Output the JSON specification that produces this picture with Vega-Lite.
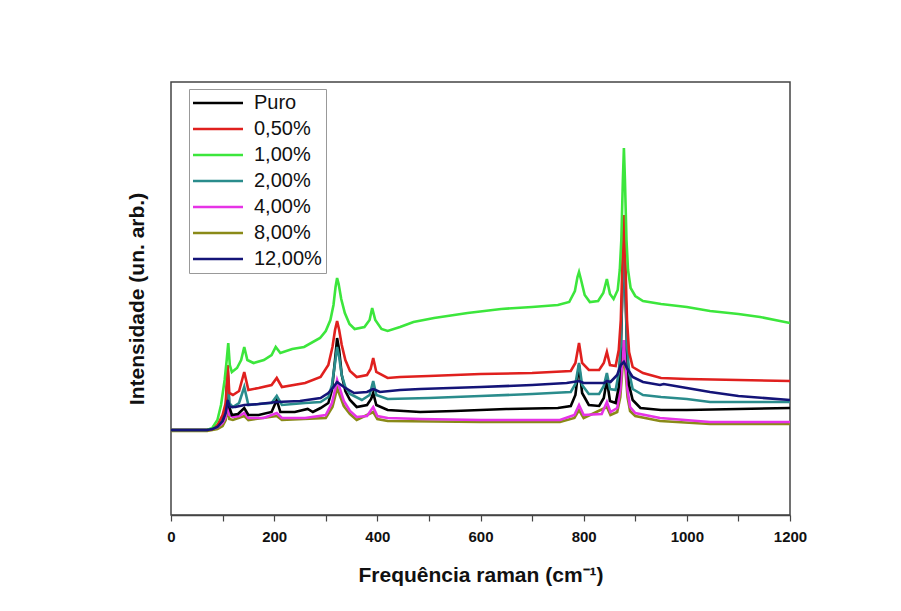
{
"$schema":"https://vega.github.io/schema/vega-lite/v6.json",
"autosize":{"type":"none"},
"padding":{"left":171,"top":82,"right":111,"bottom":96},
"width":619,"height":433,
"background":"white",
"config":{"view":{"stroke":"#444","strokeWidth":1.5},"font":"Liberation Sans"},
"data":{"values":[
{"s":"8,00%","x":0,"y":84},{"s":"8,00%","x":70,"y":84},{"s":"8,00%","x":80,"y":85},{"s":"8,00%","x":90,"y":86},{"s":"8,00%","x":100,"y":89},{"s":"8,00%","x":106,"y":95},{"s":"8,00%","x":110,"y":108},{"s":"8,00%","x":113,"y":96},{"s":"8,00%","x":120,"y":95},{"s":"8,00%","x":142,"y":99},{"s":"8,00%","x":150,"y":95},{"s":"8,00%","x":205,"y":99},{"s":"8,00%","x":215,"y":95},{"s":"8,00%","x":300,"y":97},{"s":"8,00%","x":313,"y":108},{"s":"8,00%","x":318,"y":118},{"s":"8,00%","x":322,"y":127},{"s":"8,00%","x":327,"y":120},{"s":"8,00%","x":335,"y":109},{"s":"8,00%","x":347,"y":101},{"s":"8,00%","x":360,"y":95},{"s":"8,00%","x":392,"y":103},{"s":"8,00%","x":400,"y":96},{"s":"8,00%","x":420,"y":94},{"s":"8,00%","x":600,"y":93},{"s":"8,00%","x":754,"y":93},{"s":"8,00%","x":782,"y":97},{"s":"8,00%","x":791,"y":105},{"s":"8,00%","x":800,"y":97},{"s":"8,00%","x":845,"y":108},{"s":"8,00%","x":852,"y":100},{"s":"8,00%","x":865,"y":103},{"s":"8,00%","x":871,"y":118},{"s":"8,00%","x":875,"y":145},{"s":"8,00%","x":878,"y":160},{"s":"8,00%","x":881,"y":145},{"s":"8,00%","x":885,"y":118},{"s":"8,00%","x":890,"y":104},{"s":"8,00%","x":900,"y":99},{"s":"8,00%","x":948,"y":94},{"s":"8,00%","x":1045,"y":91},{"s":"8,00%","x":1200,"y":91},
{"s":"4,00%","x":0,"y":85},{"s":"4,00%","x":70,"y":85},{"s":"4,00%","x":80,"y":86},{"s":"4,00%","x":90,"y":88},{"s":"4,00%","x":100,"y":92},{"s":"4,00%","x":106,"y":98},{"s":"4,00%","x":110,"y":115},{"s":"4,00%","x":113,"y":100},{"s":"4,00%","x":120,"y":98},{"s":"4,00%","x":132,"y":99},{"s":"4,00%","x":142,"y":102},{"s":"4,00%","x":150,"y":97},{"s":"4,00%","x":180,"y":97},{"s":"4,00%","x":205,"y":102},{"s":"4,00%","x":215,"y":97},{"s":"4,00%","x":260,"y":97},{"s":"4,00%","x":300,"y":100},{"s":"4,00%","x":312,"y":112},{"s":"4,00%","x":318,"y":125},{"s":"4,00%","x":322,"y":135},{"s":"4,00%","x":327,"y":127},{"s":"4,00%","x":335,"y":114},{"s":"4,00%","x":347,"y":104},{"s":"4,00%","x":360,"y":98},{"s":"4,00%","x":380,"y":99},{"s":"4,00%","x":392,"y":108},{"s":"4,00%","x":400,"y":99},{"s":"4,00%","x":420,"y":97},{"s":"4,00%","x":483,"y":96},{"s":"4,00%","x":600,"y":95},{"s":"4,00%","x":700,"y":95},{"s":"4,00%","x":754,"y":95},{"s":"4,00%","x":782,"y":100},{"s":"4,00%","x":791,"y":110},{"s":"4,00%","x":800,"y":100},{"s":"4,00%","x":835,"y":101},{"s":"4,00%","x":845,"y":113},{"s":"4,00%","x":852,"y":103},{"s":"4,00%","x":865,"y":107},{"s":"4,00%","x":871,"y":125},{"s":"4,00%","x":875,"y":155},{"s":"4,00%","x":878,"y":175},{"s":"4,00%","x":881,"y":155},{"s":"4,00%","x":885,"y":125},{"s":"4,00%","x":890,"y":108},{"s":"4,00%","x":900,"y":102},{"s":"4,00%","x":948,"y":97},{"s":"4,00%","x":1045,"y":93},{"s":"4,00%","x":1200,"y":93},
{"s":"Puro","x":0,"y":85},{"s":"Puro","x":70,"y":85},{"s":"Puro","x":80,"y":86},{"s":"Puro","x":90,"y":89},{"s":"Puro","x":100,"y":95},{"s":"Puro","x":106,"y":104},{"s":"Puro","x":110,"y":140},{"s":"Puro","x":113,"y":108},{"s":"Puro","x":118,"y":100},{"s":"Puro","x":130,"y":101},{"s":"Puro","x":142,"y":107},{"s":"Puro","x":150,"y":100},{"s":"Puro","x":170,"y":100},{"s":"Puro","x":195,"y":103},{"s":"Puro","x":205,"y":115},{"s":"Puro","x":212,"y":103},{"s":"Puro","x":240,"y":103},{"s":"Puro","x":265,"y":106},{"s":"Puro","x":275,"y":103},{"s":"Puro","x":290,"y":107},{"s":"Puro","x":305,"y":112},{"s":"Puro","x":312,"y":125},{"s":"Puro","x":318,"y":155},{"s":"Puro","x":322,"y":177},{"s":"Puro","x":326,"y":165},{"s":"Puro","x":331,"y":140},{"s":"Puro","x":338,"y":124},{"s":"Puro","x":347,"y":115},{"s":"Puro","x":360,"y":108},{"s":"Puro","x":380,"y":110},{"s":"Puro","x":388,"y":116},{"s":"Puro","x":392,"y":122},{"s":"Puro","x":398,"y":110},{"s":"Puro","x":420,"y":105},{"s":"Puro","x":483,"y":103},{"s":"Puro","x":550,"y":104},{"s":"Puro","x":650,"y":106},{"s":"Puro","x":750,"y":107},{"s":"Puro","x":775,"y":109},{"s":"Puro","x":784,"y":120},{"s":"Puro","x":791,"y":150},{"s":"Puro","x":797,"y":122},{"s":"Puro","x":810,"y":110},{"s":"Puro","x":830,"y":109},{"s":"Puro","x":839,"y":117},{"s":"Puro","x":845,"y":135},{"s":"Puro","x":851,"y":114},{"s":"Puro","x":862,"y":112},{"s":"Puro","x":868,"y":128},{"s":"Puro","x":872,"y":165},{"s":"Puro","x":875,"y":225},{"s":"Puro","x":878,"y":285},{"s":"Puro","x":881,"y":225},{"s":"Puro","x":884,"y":165},{"s":"Puro","x":888,"y":130},{"s":"Puro","x":895,"y":115},{"s":"Puro","x":910,"y":107},{"s":"Puro","x":950,"y":105},{"s":"Puro","x":1000,"y":105},{"s":"Puro","x":1100,"y":106},{"s":"Puro","x":1200,"y":107},
{"s":"2,00%","x":0,"y":85},{"s":"2,00%","x":70,"y":85},{"s":"2,00%","x":80,"y":86},{"s":"2,00%","x":90,"y":89},{"s":"2,00%","x":100,"y":96},{"s":"2,00%","x":106,"y":106},{"s":"2,00%","x":110,"y":145},{"s":"2,00%","x":113,"y":112},{"s":"2,00%","x":120,"y":108},{"s":"2,00%","x":132,"y":112},{"s":"2,00%","x":142,"y":128},{"s":"2,00%","x":150,"y":110},{"s":"2,00%","x":170,"y":111},{"s":"2,00%","x":195,"y":112},{"s":"2,00%","x":205,"y":119},{"s":"2,00%","x":215,"y":110},{"s":"2,00%","x":260,"y":112},{"s":"2,00%","x":290,"y":113},{"s":"2,00%","x":305,"y":118},{"s":"2,00%","x":312,"y":130},{"s":"2,00%","x":318,"y":152},{"s":"2,00%","x":322,"y":168},{"s":"2,00%","x":326,"y":158},{"s":"2,00%","x":331,"y":140},{"s":"2,00%","x":338,"y":128},{"s":"2,00%","x":347,"y":121},{"s":"2,00%","x":370,"y":115},{"s":"2,00%","x":385,"y":120},{"s":"2,00%","x":392,"y":134},{"s":"2,00%","x":398,"y":120},{"s":"2,00%","x":420,"y":116},{"s":"2,00%","x":500,"y":117},{"s":"2,00%","x":600,"y":119},{"s":"2,00%","x":700,"y":121},{"s":"2,00%","x":775,"y":123},{"s":"2,00%","x":784,"y":131},{"s":"2,00%","x":791,"y":152},{"s":"2,00%","x":797,"y":130},{"s":"2,00%","x":810,"y":121},{"s":"2,00%","x":830,"y":121},{"s":"2,00%","x":839,"y":129},{"s":"2,00%","x":845,"y":142},{"s":"2,00%","x":851,"y":126},{"s":"2,00%","x":862,"y":125},{"s":"2,00%","x":868,"y":142},{"s":"2,00%","x":872,"y":170},{"s":"2,00%","x":875,"y":225},{"s":"2,00%","x":878,"y":275},{"s":"2,00%","x":881,"y":225},{"s":"2,00%","x":884,"y":170},{"s":"2,00%","x":888,"y":143},{"s":"2,00%","x":895,"y":126},{"s":"2,00%","x":915,"y":120},{"s":"2,00%","x":950,"y":118},{"s":"2,00%","x":1000,"y":116},{"s":"2,00%","x":1045,"y":113},{"s":"2,00%","x":1100,"y":113},{"s":"2,00%","x":1200,"y":113},
{"s":"0,50%","x":0,"y":85},{"s":"0,50%","x":70,"y":85},{"s":"0,50%","x":80,"y":86},{"s":"0,50%","x":90,"y":90},{"s":"0,50%","x":100,"y":100},{"s":"0,50%","x":106,"y":112},{"s":"0,50%","x":110,"y":150},{"s":"0,50%","x":113,"y":122},{"s":"0,50%","x":120,"y":120},{"s":"0,50%","x":132,"y":124},{"s":"0,50%","x":142,"y":143},{"s":"0,50%","x":150,"y":125},{"s":"0,50%","x":170,"y":127},{"s":"0,50%","x":195,"y":130},{"s":"0,50%","x":205,"y":137},{"s":"0,50%","x":215,"y":128},{"s":"0,50%","x":260,"y":132},{"s":"0,50%","x":290,"y":138},{"s":"0,50%","x":305,"y":150},{"s":"0,50%","x":313,"y":168},{"s":"0,50%","x":318,"y":185},{"s":"0,50%","x":322,"y":194},{"s":"0,50%","x":326,"y":185},{"s":"0,50%","x":331,"y":170},{"s":"0,50%","x":338,"y":155},{"s":"0,50%","x":347,"y":144},{"s":"0,50%","x":360,"y":138},{"s":"0,50%","x":380,"y":140},{"s":"0,50%","x":387,"y":146},{"s":"0,50%","x":392,"y":157},{"s":"0,50%","x":398,"y":143},{"s":"0,50%","x":420,"y":137},{"s":"0,50%","x":444,"y":138},{"s":"0,50%","x":500,"y":139},{"s":"0,50%","x":600,"y":141},{"s":"0,50%","x":700,"y":142},{"s":"0,50%","x":775,"y":144},{"s":"0,50%","x":784,"y":152},{"s":"0,50%","x":791,"y":172},{"s":"0,50%","x":797,"y":152},{"s":"0,50%","x":810,"y":145},{"s":"0,50%","x":830,"y":145},{"s":"0,50%","x":839,"y":152},{"s":"0,50%","x":845,"y":163},{"s":"0,50%","x":851,"y":150},{"s":"0,50%","x":862,"y":149},{"s":"0,50%","x":868,"y":165},{"s":"0,50%","x":872,"y":195},{"s":"0,50%","x":875,"y":250},{"s":"0,50%","x":878,"y":300},{"s":"0,50%","x":881,"y":250},{"s":"0,50%","x":884,"y":195},{"s":"0,50%","x":888,"y":163},{"s":"0,50%","x":895,"y":148},{"s":"0,50%","x":915,"y":142},{"s":"0,50%","x":950,"y":137},{"s":"0,50%","x":1000,"y":136},{"s":"0,50%","x":1100,"y":135},{"s":"0,50%","x":1200,"y":134},
{"s":"1,00%","x":0,"y":85},{"s":"1,00%","x":70,"y":85},{"s":"1,00%","x":80,"y":87},{"s":"1,00%","x":90,"y":95},{"s":"1,00%","x":97,"y":110},{"s":"1,00%","x":104,"y":135},{"s":"1,00%","x":108,"y":155},{"s":"1,00%","x":111,"y":172},{"s":"1,00%","x":114,"y":150},{"s":"1,00%","x":118,"y":143},{"s":"1,00%","x":128,"y":147},{"s":"1,00%","x":136,"y":155},{"s":"1,00%","x":142,"y":168},{"s":"1,00%","x":148,"y":155},{"s":"1,00%","x":160,"y":152},{"s":"1,00%","x":180,"y":155},{"s":"1,00%","x":195,"y":160},{"s":"1,00%","x":203,"y":168},{"s":"1,00%","x":212,"y":162},{"s":"1,00%","x":235,"y":166},{"s":"1,00%","x":258,"y":168},{"s":"1,00%","x":289,"y":177},{"s":"1,00%","x":300,"y":184},{"s":"1,00%","x":309,"y":195},{"s":"1,00%","x":315,"y":210},{"s":"1,00%","x":319,"y":228},{"s":"1,00%","x":322,"y":237},{"s":"1,00%","x":325,"y":231},{"s":"1,00%","x":330,"y":216},{"s":"1,00%","x":337,"y":202},{"s":"1,00%","x":346,"y":191},{"s":"1,00%","x":356,"y":186},{"s":"1,00%","x":375,"y":188},{"s":"1,00%","x":385,"y":195},{"s":"1,00%","x":390,"y":207},{"s":"1,00%","x":396,"y":195},{"s":"1,00%","x":408,"y":186},{"s":"1,00%","x":420,"y":184},{"s":"1,00%","x":444,"y":188},{"s":"1,00%","x":470,"y":193},{"s":"1,00%","x":510,"y":197},{"s":"1,00%","x":575,"y":202},{"s":"1,00%","x":640,"y":206},{"s":"1,00%","x":700,"y":208},{"s":"1,00%","x":750,"y":210},{"s":"1,00%","x":772,"y":213},{"s":"1,00%","x":783,"y":224},{"s":"1,00%","x":788,"y":238},{"s":"1,00%","x":791,"y":243},{"s":"1,00%","x":795,"y":235},{"s":"1,00%","x":802,"y":220},{"s":"1,00%","x":812,"y":213},{"s":"1,00%","x":828,"y":214},{"s":"1,00%","x":838,"y":222},{"s":"1,00%","x":845,"y":236},{"s":"1,00%","x":851,"y":221},{"s":"1,00%","x":858,"y":216},{"s":"1,00%","x":866,"y":225},{"s":"1,00%","x":870,"y":245},{"s":"1,00%","x":873,"y":275},{"s":"1,00%","x":876,"y":335},{"s":"1,00%","x":878,"y":367},{"s":"1,00%","x":880,"y":335},{"s":"1,00%","x":883,"y":275},{"s":"1,00%","x":886,"y":245},{"s":"1,00%","x":891,"y":227},{"s":"1,00%","x":900,"y":219},{"s":"1,00%","x":915,"y":214},{"s":"1,00%","x":950,"y":211},{"s":"1,00%","x":1000,"y":208},{"s":"1,00%","x":1045,"y":204},{"s":"1,00%","x":1100,"y":201},{"s":"1,00%","x":1142,"y":198},{"s":"1,00%","x":1200,"y":192},
{"s":"12,00%","x":0,"y":85},{"s":"12,00%","x":70,"y":85},{"s":"12,00%","x":80,"y":86},{"s":"12,00%","x":90,"y":88},{"s":"12,00%","x":100,"y":94},{"s":"12,00%","x":106,"y":102},{"s":"12,00%","x":110,"y":115},{"s":"12,00%","x":114,"y":108},{"s":"12,00%","x":125,"y":108},{"s":"12,00%","x":142,"y":110},{"s":"12,00%","x":170,"y":111},{"s":"12,00%","x":205,"y":113},{"s":"12,00%","x":250,"y":114},{"s":"12,00%","x":290,"y":117},{"s":"12,00%","x":305,"y":122},{"s":"12,00%","x":315,"y":128},{"s":"12,00%","x":322,"y":133},{"s":"12,00%","x":335,"y":128},{"s":"12,00%","x":355,"y":122},{"s":"12,00%","x":380,"y":123},{"s":"12,00%","x":392,"y":126},{"s":"12,00%","x":405,"y":123},{"s":"12,00%","x":444,"y":125},{"s":"12,00%","x":483,"y":126},{"s":"12,00%","x":600,"y":128},{"s":"12,00%","x":700,"y":130},{"s":"12,00%","x":767,"y":132},{"s":"12,00%","x":791,"y":134},{"s":"12,00%","x":800,"y":132},{"s":"12,00%","x":840,"y":132},{"s":"12,00%","x":845,"y":134},{"s":"12,00%","x":852,"y":133},{"s":"12,00%","x":865,"y":140},{"s":"12,00%","x":872,"y":150},{"s":"12,00%","x":878,"y":153},{"s":"12,00%","x":885,"y":146},{"s":"12,00%","x":895,"y":138},{"s":"12,00%","x":915,"y":133},{"s":"12,00%","x":948,"y":130},{"s":"12,00%","x":955,"y":131},{"s":"12,00%","x":1000,"y":127},{"s":"12,00%","x":1045,"y":123},{"s":"12,00%","x":1100,"y":119},{"s":"12,00%","x":1200,"y":115}
]},
"mark":{"type":"line","strokeWidth":2.6,"clip":true},
"encoding":{
"x":{"field":"x","type":"quantitative","scale":{"domain":[0,1200],"nice":false},
"axis":{"title":"Frequência raman (cm⁻¹)","titleFont":"Liberation Sans","titleFontSize":21,"titleFontWeight":"bold","titleColor":"#111","titlePadding":20,
"values":[0,100,200,300,400,500,600,700,800,900,1000,1100,1200],"labelExpr":"datum.value % 200 == 0 ? datum.label : ''","format":"d",
"labelFont":"Liberation Sans","labelFontSize":15,"labelFontWeight":"bold","labelColor":"#111","labelPadding":8,"tickSize":6,"tickColor":"#444","domainColor":"#444","domainWidth":1.5,"tickWidth":1.2,"grid":false,"labelFlush":false,"labelOverlap":false}},
"y":{"field":"y","type":"quantitative","scale":{"domain":[0,433],"nice":false},
"axis":{"title":"Intensidade (un. arb.)","titleFont":"Liberation Sans","titleFontSize":21,"titleFontWeight":"bold","titleColor":"#111","titlePadding":24,"labels":false,"ticks":false,"domain":false,"grid":false}},
"color":{"field":"s","type":"nominal","scale":{"domain":["Puro","0,50%","1,00%","2,00%","4,00%","8,00%","12,00%"],"range":["#000000","#e0201e","#3ce63c","#2a8c8c","#e633e6","#8a8a18","#141478"]},
"legend":{"title":null,"orient":"none","legendX":18,"legendY":7,"symbolType":"M-2,0H8","symbolSize":100,"symbolStrokeWidth":2.6,"labelFont":"Liberation Sans","labelFontSize":20,"labelColor":"#111","strokeColor":"#999","fillColor":"white","padding":4,"rowPadding":6,"labelOffset":41}}
}
}
